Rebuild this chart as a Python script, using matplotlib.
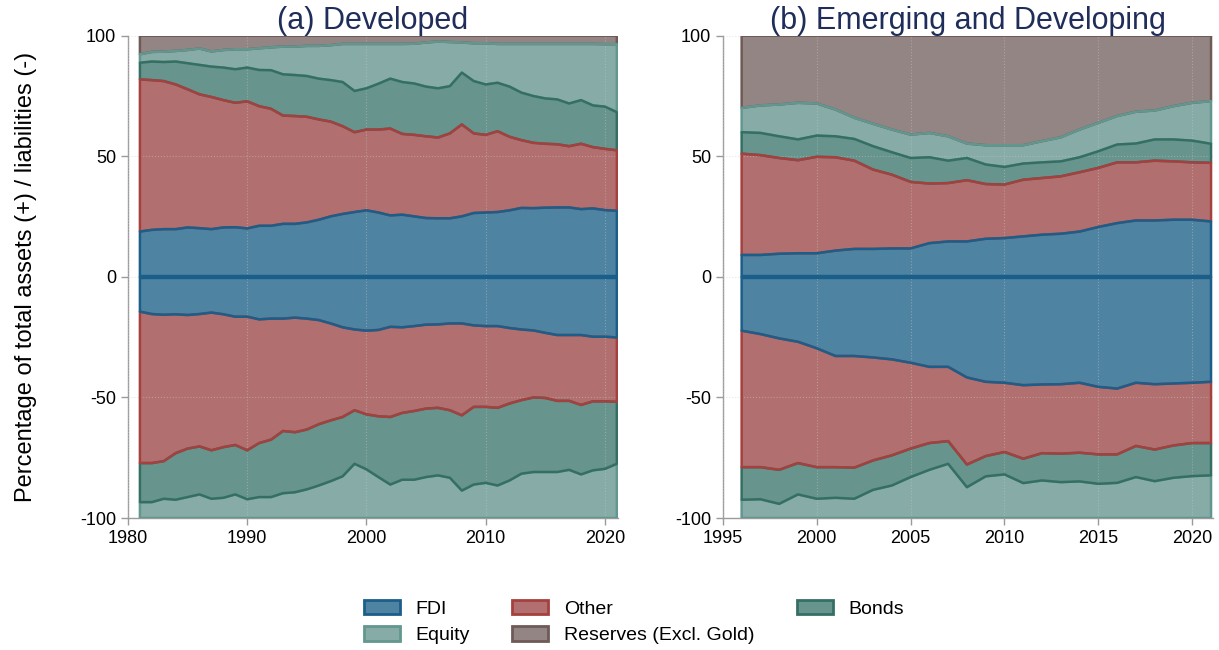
import numpy as np
import matplotlib.pyplot as plt
from matplotlib.patches import Patch

plt.rcParams['font.family'] = ['Liberation Sans', 'DejaVu Sans']
plt.rcParams['axes.unicode_minus'] = False

# stack levels (cumulative, % of total)
dev_years = list(range(1981, 2022))
dev_a_fdi = [18.8, 19.5, 19.8, 19.8, 20.5, 20.2, 19.8, 20.5, 20.6, 20.1, 21.2, 21.2, 22.0, 22.0,
             22.6, 23.7, 25.1, 26.1, 26.9, 27.6, 26.7, 25.5, 25.8, 25.1, 24.4, 24.3, 24.3, 25.1,
             26.5, 26.7, 26.9, 27.6, 28.6, 28.5, 28.7, 28.8, 28.8, 28.1, 28.4, 27.7, 27.4]
dev_a_other = [81.9, 81.6, 81.2, 79.8, 77.8, 75.7, 74.6, 73.3, 72.2, 72.8, 70.8, 69.7, 66.9, 66.7,
               66.4, 65.3, 64.4, 62.5, 60.0, 61.1, 61.1, 61.5, 59.3, 58.9, 58.3, 57.8, 59.5, 63.2,
               59.5, 58.9, 60.4, 58.1, 56.7, 55.6, 55.2, 55.0, 54.2, 55.2, 53.8, 53.1, 52.5]
dev_a_bonds = [88.8, 89.3, 89.1, 89.3, 88.6, 87.9, 87.2, 86.8, 86.1, 86.8, 85.8, 85.7, 84.0, 83.7,
               83.3, 82.2, 81.6, 80.8, 77.1, 78.2, 80.1, 82.2, 80.8, 80.2, 78.9, 78.2, 79.1, 84.7,
               81.2, 79.8, 80.5, 78.9, 76.4, 75.0, 74.0, 73.6, 71.9, 73.3, 71.1, 70.6, 68.3]
dev_a_equity = [92.3, 93.3, 93.4, 93.7, 94.1, 94.7, 93.5, 94.1, 94.4, 94.4, 94.8, 95.2, 95.5, 95.5,
                95.8, 95.8, 96.1, 96.6, 96.6, 96.6, 96.6, 96.6, 96.6, 96.7, 97.2, 97.6, 97.4, 97.2,
                96.9, 96.9, 96.6, 96.6, 96.6, 96.6, 96.6, 96.6, 96.6, 96.6, 96.6, 96.5, 96.5]
dev_l_fdi = [-14.4, -15.4, -15.7, -15.5, -15.8, -15.4, -14.8, -15.5, -16.5, -16.5, -17.6, -17.3,
             -17.3, -16.9, -17.3, -17.9, -19.3, -20.9, -21.8, -22.3, -22.0, -20.7, -20.9, -20.4,
             -19.8, -19.7, -19.3, -19.3, -20.1, -20.4, -20.4, -21.2, -21.8, -22.2, -23.2, -24.1,
             -24.1, -24.1, -24.8, -24.8, -25.1]
dev_l_other = [-77.2, -77.2, -76.4, -73.1, -71.2, -70.3, -71.9, -70.6, -69.7, -71.9, -68.9, -67.5,
               -63.9, -64.4, -63.3, -61.1, -59.5, -58.1, -55.3, -57.0, -57.8, -58.1, -56.4, -55.6,
               -54.6, -54.3, -55.3, -57.4, -53.9, -53.9, -54.3, -52.5, -51.1, -50.0, -50.2, -51.4,
               -51.4, -53.1, -51.6, -51.6, -51.8]
dev_l_bonds = [-93.4, -93.4, -92.0, -92.4, -91.3, -90.2, -92.0, -91.6, -90.2, -92.2, -91.3, -91.3,
               -89.7, -89.3, -88.1, -86.5, -84.7, -82.7, -77.5, -79.8, -83.0, -86.1, -84.1, -84.1,
               -83.0, -82.3, -83.3, -88.6, -86.1, -85.4, -86.5, -84.4, -81.6, -80.9, -80.9, -80.9,
               -80.0, -81.9, -80.2, -79.6, -77.5]

eme_years = list(range(1996, 2022))
eme_a_fdi = [9.1, 9.1, 9.6, 9.8, 9.8, 10.9, 11.6, 11.6, 11.8, 11.8, 14.0, 14.7, 14.7, 15.8, 16.1,
             16.8, 17.5, 17.9, 18.8, 20.7, 22.3, 23.4, 23.4, 23.7, 23.7, 23.0]
eme_a_other = [51.1, 50.5, 49.3, 48.4, 49.8, 49.6, 48.2, 44.5, 42.4, 39.4, 38.7, 38.9, 40.1, 38.5,
               38.3, 40.3, 41.0, 41.7, 43.4, 45.2, 47.5, 47.5, 48.2, 47.9, 47.5, 47.3]
eme_a_bonds = [60.0, 59.7, 58.3, 57.0, 58.6, 58.3, 57.2, 54.2, 51.7, 49.3, 49.6, 48.2, 49.3, 46.6,
               45.6, 47.0, 47.5, 47.9, 49.6, 52.1, 54.9, 55.3, 57.0, 57.0, 56.5, 55.2]
eme_a_equity = [70.1, 71.1, 71.5, 72.2, 71.9, 69.4, 66.0, 63.5, 61.1, 59.0, 59.7, 58.3, 55.3, 54.6,
                54.6, 54.6, 56.3, 57.9, 61.1, 63.9, 66.7, 68.5, 69.0, 70.8, 72.2, 72.9]
eme_l_fdi = [-22.3, -23.7, -25.5, -26.9, -29.6, -32.8, -32.8, -33.4, -34.2, -35.6, -37.3, -37.3,
             -41.7, -43.5, -43.9, -44.9, -44.6, -44.5, -43.9, -45.6, -46.3, -43.9, -44.5, -44.2,
             -43.9, -43.5]
eme_l_other = [-78.9, -78.9, -80.0, -77.2, -78.9, -78.9, -79.1, -76.1, -74.0, -71.2, -68.9, -68.1,
               -77.8, -74.3, -72.6, -75.4, -73.1, -73.3, -72.9, -73.6, -73.6, -70.1, -71.6, -69.9,
               -68.9, -68.9]
eme_l_bonds = [-92.4, -92.2, -94.1, -90.2, -92.0, -91.6, -92.0, -88.3, -86.5, -83.0, -80.0, -77.5,
               -87.2, -82.7, -81.9, -85.5, -84.4, -85.1, -84.8, -85.8, -85.4, -83.0, -84.7, -83.3,
               -82.6, -82.3]

names = ['FDI', 'Other', 'Bonds', 'Equity', 'Reserves (Excl. Gold)']
fills = ['#4e84a2', '#b1706f', '#67948c', '#87aca7', '#938583']
edges = ['#1b5e8a', '#a5403f', '#356f63', '#62978f', '#705a58']


def draw_panel(ax, years, assets, liabs, xlim, xticks, title):
    yrs = np.array(years)
    full = np.full(len(yrs), 100.0)
    bands = []
    lows = [np.zeros(len(yrs))] + [np.array(a) for a in assets]
    highs = [np.array(a) for a in assets] + [full]
    for i in range(5):
        bands.append((i, lows[i], highs[i]))
    lows = [np.zeros(len(yrs))] + [np.array(l) for l in liabs]
    highs = [np.array(l) for l in liabs] + [-full]
    for i in range(4):
        bands.append((i, lows[i], highs[i]))

    # fills first, outlines on top so shared borders stay visible
    for i, lo, hi in bands:
        ax.fill_between(yrs, lo, hi, facecolor=fills[i], edgecolor='none', zorder=2)
    for i, lo, hi in sorted(bands, key=lambda b: -b[0]):
        ax.fill_between(yrs, lo, hi, facecolor='none', edgecolor=edges[i],
                        linewidth=1.8, zorder=3)
    # the two FDI outlines meet at zero and look like one thick line
    ax.plot([yrs[0], yrs[-1]], [0, 0], color=edges[0], linewidth=3.2, zorder=4,
            solid_capstyle='butt')

    ax.set_xlim(*xlim)
    ax.set_ylim(-100, 100)
    ax.set_xticks(xticks)
    ax.set_yticks([-100, -50, 0, 50, 100])
    ax.grid(True, linestyle=':', color='#c8c8c8', linewidth=0.8, alpha=0.45)
    ax.set_axisbelow(False)
    for s in ['top', 'right']:
        ax.spines[s].set_visible(False)
    for s in ['left', 'bottom']:
        ax.spines[s].set_color('#9a9a9a')
        ax.spines[s].set_linewidth(1.0)
    ax.tick_params(axis='both', colors='#9a9a9a', labelcolor='black',
                   labelsize=13, length=5, width=1.0)
    ax.set_title(title, fontsize=22, color='#1f2d5a', pad=2)


fig = plt.figure(figsize=(12.19, 6.5), dpi=100)
ax1 = fig.add_axes([0.105, 0.203, 0.402, 0.742])
ax2 = fig.add_axes([0.593, 0.203, 0.402, 0.742])

draw_panel(ax1, dev_years, [dev_a_fdi, dev_a_other, dev_a_bonds, dev_a_equity],
           [dev_l_fdi, dev_l_other, dev_l_bonds], (1980, 2021.1),
           [1980, 1990, 2000, 2010, 2020], '(a) Developed')
draw_panel(ax2, eme_years, [eme_a_fdi, eme_a_other, eme_a_bonds, eme_a_equity],
           [eme_l_fdi, eme_l_other, eme_l_bonds], (1995, 2021.1),
           [1995, 2000, 2005, 2010, 2015, 2020], '(b) Emerging and Developing')

fig.text(0.021, 0.574, 'Percentage of total assets (+) / liabilities (-)',
         rotation=90, ha='center', va='center', fontsize=17)

order = [0, 3, 1, 4, 2]
handles = [Patch(facecolor=fills[i], edgecolor=edges[i], linewidth=2) for i in order]
labels = [names[i] for i in order]
fig.legend(handles, labels, loc='center', bbox_to_anchor=(0.52, 0.043), ncol=3,
           frameon=False, fontsize=14, handlelength=1.85, handleheight=0.75,
           handletextpad=0.8, columnspacing=2.2, labelspacing=0.45)

fig.savefig('out.png', dpi=100)
